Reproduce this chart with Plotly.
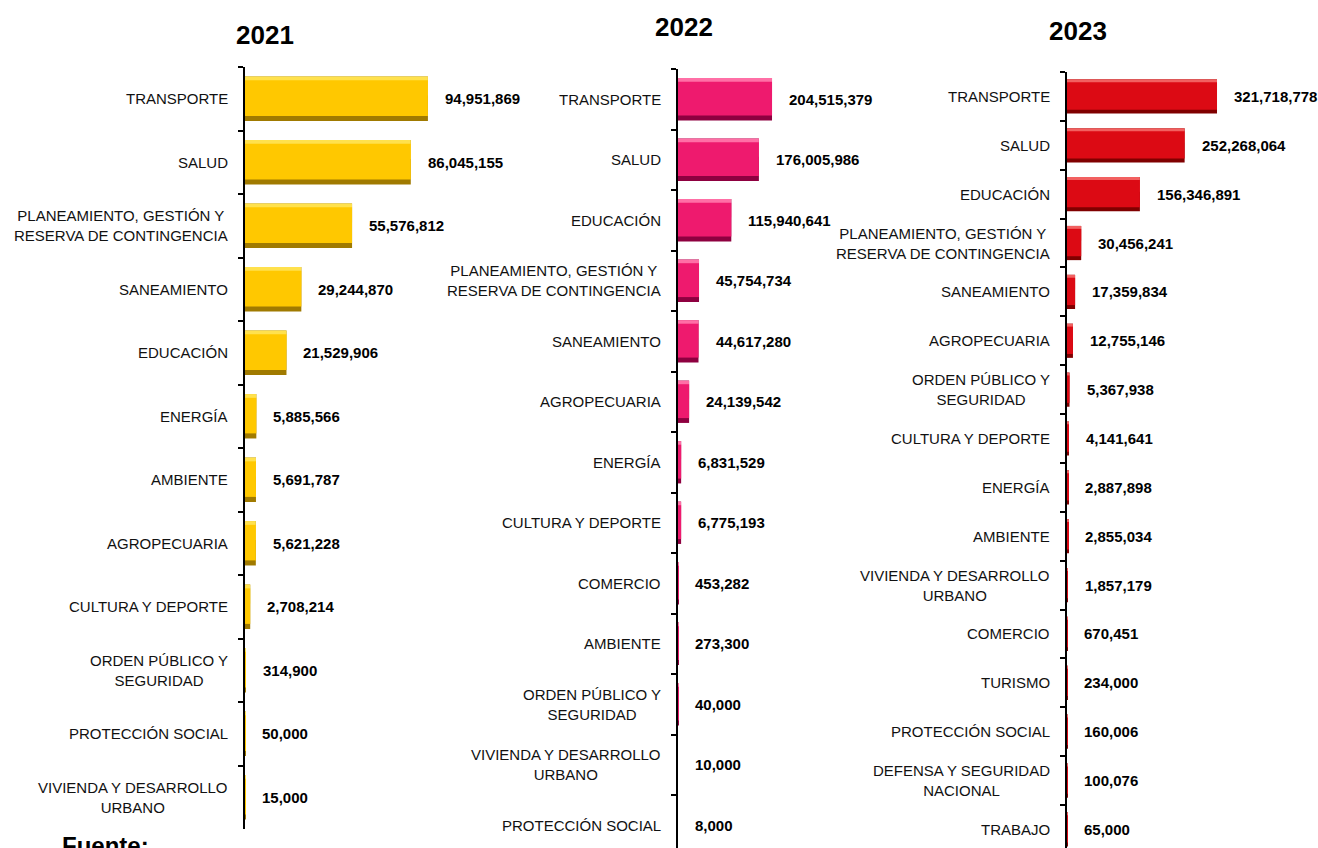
import plotly.graph_objects as go

# ---------------- DATA ----------------
cats_2021 = ["TRANSPORTE", "SALUD", "PLANEAMIENTO, GESTIÓN Y<br>RESERVA DE CONTINGENCIA",
             "SANEAMIENTO", "EDUCACIÓN", "ENERGÍA", "AMBIENTE", "AGROPECUARIA",
             "CULTURA Y DEPORTE", "ORDEN PÚBLICO Y<br>SEGURIDAD", "PROTECCIÓN SOCIAL",
             "VIVIENDA Y DESARROLLO<br>URBANO"]
vals_2021 = [94951869, 86045155, 55576812, 29244870, 21529906, 5885566, 5691787,
             5621228, 2708214, 314900, 50000, 15000]

cats_2022 = ["TRANSPORTE", "SALUD", "EDUCACIÓN",
             "PLANEAMIENTO, GESTIÓN Y<br>RESERVA DE CONTINGENCIA", "SANEAMIENTO",
             "AGROPECUARIA", "ENERGÍA", "CULTURA Y DEPORTE", "COMERCIO", "AMBIENTE",
             "ORDEN PÚBLICO Y<br>SEGURIDAD", "VIVIENDA Y DESARROLLO<br>URBANO",
             "PROTECCIÓN SOCIAL"]
vals_2022 = [204515379, 176005986, 115940641, 45754734, 44617280, 24139542, 6831529,
             6775193, 453282, 273300, 40000, 10000, 8000]

cats_2023 = ["TRANSPORTE", "SALUD", "EDUCACIÓN",
             "PLANEAMIENTO, GESTIÓN Y<br>RESERVA DE CONTINGENCIA", "SANEAMIENTO",
             "AGROPECUARIA", "ORDEN PÚBLICO Y<br>SEGURIDAD", "CULTURA Y DEPORTE",
             "ENERGÍA", "AMBIENTE", "VIVIENDA Y DESARROLLO<br>URBANO", "COMERCIO",
             "TURISMO", "PROTECCIÓN SOCIAL", "DEFENSA Y SEGURIDAD<br>NACIONAL", "TRABAJO"]
vals_2023 = [321718778, 252268064, 156346891, 30456241, 17359834, 12755146, 5367938,
             4141641, 2887898, 2855034, 1857179, 670451, 234000, 160006, 100076, 65000]

years = ["2021", "2022", "2023"]

# ---------------- STYLE ----------------
W, H = 1318, 848
FONT = "Liberation Sans, Arial, sans-serif"

panels = [
    dict(cats=cats_2021, vals=vals_2021, year=years[0],
         xdom=[245 / W, 560 / W], xmax=163.5e6,
         ydom=[1 - 829 / H, 1 - 67 / H], yrange=[11.5, -0.5],
         face="#FFC800", light="#FFE14D", dark="#A07A00",
         title_xy=(265 / W, 1 - 35 / H)),
    dict(cats=cats_2022, vals=vals_2022, year=years[1],
         xdom=[678 / W, 900 / W], xmax=482.9e6,
         ydom=[0, 1 - 69 / H], yrange=[12.376, -0.5],
         face="#EE1A6E", light="#FF6FA6", dark="#8E0040",
         title_xy=(684 / W, 1 - 27 / H)),
    dict(cats=cats_2023, vals=vals_2023, year=years[2],
         xdom=[1067 / W, 1.0], xmax=538.3e6,
         ydom=[0, 1 - 72 / H], yrange=[15.38, -0.5],
         face="#DC0A14", light="#F26060", dark="#800000",
         title_xy=(1078 / W, 1 - 31 / H)),
]

fig = go.Figure()
annotations = []
layout_axes = {}

for i, p in enumerate(panels, start=1):
    sx = "" if i == 1 else str(i)
    xa, ya = "x" + sx, "y" + sx

    # bevel-like layered bars: dark base, light top band, bright face
    fig.add_trace(go.Bar(y=p["cats"], x=p["vals"], orientation="h", xaxis=xa, yaxis=ya,
                         width=0.7, offset=-0.35, marker=dict(color=p["dark"], line=dict(width=0)),
                         hoverinfo="skip", showlegend=False))
    fig.add_trace(go.Bar(y=p["cats"], x=p["vals"], orientation="h", xaxis=xa, yaxis=ya,
                         width=0.3, offset=-0.35, marker=dict(color=p["light"], line=dict(width=0)),
                         hoverinfo="skip", showlegend=False))
    fig.add_trace(go.Bar(y=p["cats"], x=p["vals"], orientation="h", xaxis=xa, yaxis=ya,
                         width=0.56, offset=-0.29, marker=dict(color=p["face"], line=dict(width=0)),
                         showlegend=False))

    layout_axes["xaxis" + sx] = dict(domain=p["xdom"], range=[0, p["xmax"]], visible=False,
                                     anchor=ya, fixedrange=True)
    layout_axes["yaxis" + sx] = dict(domain=p["ydom"], range=p["yrange"], type="category",
                                     anchor=xa, showline=True, linecolor="black", linewidth=1.5,
                                     ticks="outside", ticklen=5, tickwidth=1.5, tickcolor="black",
                                     tickson="boundaries", showticklabels=False,
                                     showgrid=False, zeroline=False, fixedrange=True)

    for c, v in zip(p["cats"], p["vals"]):
        # value label
        annotations.append(dict(x=v, y=c, xref=xa, yref=ya, text=f"{v:,}",
                                xanchor="left", yanchor="middle", xshift=15, showarrow=False,
                                font=dict(family=FONT, size=15, color="black", weight="bold")))
        # category label
        annotations.append(dict(x=0, y=c, xref=xa + " domain", yref=ya, text=c,
                                xanchor="right", yanchor="middle", xshift=-15, showarrow=False,
                                align="center",
                                font=dict(family=FONT, size=15, color="#111111")))
    # year title
    annotations.append(dict(x=p["title_xy"][0], y=p["title_xy"][1], xref="paper", yref="paper",
                            text=p["year"], showarrow=False, xanchor="center", yanchor="middle",
                            font=dict(family=FONT, size=26, color="black", weight="bold")))

annotations.append(dict(x=60 / W, y=0, xref="paper", yref="paper", text="Fuente:",
                        showarrow=False, xanchor="left", yanchor="middle", yshift=3,
                        font=dict(family=FONT, size=24, color="black", weight="bold")))

fig.update_layout(
    width=W, height=H,
    margin=dict(l=0, r=0, t=0, b=0),
    paper_bgcolor="white", plot_bgcolor="white",
    barmode="overlay",
    annotations=annotations,
    **layout_axes,
)

fig.write_html("out.html", config=dict(displayModeBar=False),
               post_script="document.body.style.margin='0';document.body.style.overflow='hidden';")
